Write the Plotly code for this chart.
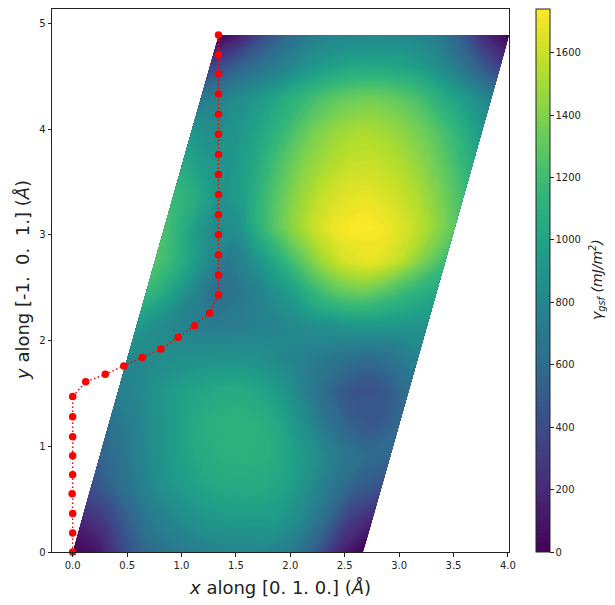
import plotly.graph_objects as go

# Grid: position along the [0 1 0] edge and y rows
a_vals = [0, 0.2225, 0.445, 0.6675, 0.89, 1.1125, 1.335, 1.5575, 1.78, 2.0025, 2.225, 2.4475, 2.67]
b_vals = [0, 0.306, 0.612, 0.918, 1.224, 1.53, 1.836, 2.142, 2.448, 2.754, 3.06, 3.366, 3.672, 3.978, 4.284, 4.59, 4.89]
shear = 0.2745
gamma_rows = [
    [0, 90, 360, 580, 680, 740, 780, 790, 790, 730, 520, 190, 0],
    [200, 330, 560, 730, 830, 900, 940, 950, 940, 830, 620, 340, 180],
    [430, 580, 740, 880, 970, 1030, 1050, 1050, 1000, 850, 680, 520, 450],
    [560, 680, 830, 950, 1040, 1090, 1100, 1080, 980, 850, 700, 610, 590],
    [650, 760, 880, 1000, 1080, 1110, 1100, 1030, 860, 680, 520, 480, 590],
    [760, 830, 930, 1000, 1040, 1050, 1000, 880, 710, 530, 430, 480, 650],
    [800, 830, 860, 880, 890, 880, 830, 770, 710, 650, 620, 680, 780],
    [950, 850, 770, 720, 730, 760, 800, 840, 880, 920, 930, 920, 900],
    [1170, 1000, 800, 620, 700, 820, 950, 1150, 1290, 1330, 1240, 1130, 1040],
    [1260, 1100, 880, 700, 850, 1050, 1290, 1510, 1650, 1690, 1590, 1400, 1200],
    [1240, 1030, 830, 860, 1130, 1370, 1560, 1700, 1740, 1720, 1630, 1490, 1290],
    [1180, 1050, 880, 1000, 1220, 1420, 1570, 1660, 1680, 1630, 1540, 1390, 1200],
    [1050, 930, 900, 1040, 1240, 1410, 1520, 1590, 1590, 1530, 1420, 1260, 1080],
    [920, 850, 920, 1040, 1200, 1360, 1470, 1520, 1490, 1410, 1290, 1130, 930],
    [720, 800, 880, 1000, 1130, 1250, 1330, 1360, 1320, 1230, 1080, 930, 780],
    [350, 520, 650, 760, 900, 980, 1030, 1030, 1000, 920, 760, 560, 330],
    [0, 170, 430, 620, 750, 790, 800, 800, 790, 730, 510, 200, 0],
]
path_x = [0, 0, 0, -0.005, 0, 0, 0, 0, 0, 0.12, 0.30, 0.47, 0.64, 0.81, 0.97, 1.12, 1.26,
          1.34, 1.34, 1.34, 1.34, 1.34, 1.34, 1.34, 1.34, 1.34, 1.34, 1.34, 1.34, 1.34, 1.34]
path_y = [0, 0.18, 0.365, 0.55, 0.73, 0.91, 1.09, 1.28, 1.47, 1.61, 1.68, 1.76, 1.84, 1.92, 2.03, 2.14, 2.26,
          2.43, 2.62, 2.81, 3.0, 3.19, 3.38, 3.57, 3.76, 3.95, 4.14, 4.33, 4.52, 4.70, 4.89]
x_ticks = [0, 0.5, 1, 1.5, 2, 2.5, 3, 3.5, 4]
y_ticks = [0, 1, 2, 3, 4, 5]
cbar_ticks = [0, 200, 400, 600, 800, 1000, 1200, 1400, 1600]

carpet_x = [[a + b * shear for a in a_vals] for b in b_vals]
carpet_y = [[b for _ in a_vals] for b in b_vals]
hidden = dict(showgrid=False, showticklabels="none", startline=False, endline=False,
              smoothing=1, minorgridcount=0, showline=False)

W, H = 615, 605
OFF = 7  # page offset of the figure inside the browser window
L, R, T, B = 51 - OFF, 508 - OFF, 8 - OFF, 551 - OFF
FONT = "DejaVu Sans"
INK = "#222"
fig = go.Figure()
fig.add_trace(go.Carpet(a=a_vals, b=b_vals, x=carpet_x, y=carpet_y, aaxis=hidden, baxis=hidden, carpet="c1"))
fig.add_trace(go.Contourcarpet(
    a=a_vals, b=b_vals, z=gamma_rows, carpet="c1", colorscale="Viridis", zmin=0, zmax=1740,
    autocontour=False, contours=dict(start=0, end=1740, size=15, coloring="fill", showlines=False),
    line=dict(width=0),
    colorbar=dict(x=(535 - OFF - L) / (R - L), xanchor="left", y=0, yanchor="bottom", len=1, lenmode="fraction",
                  thickness=14, thicknessmode="pixels", outlinewidth=1, outlinecolor=INK,
                  tickmode="array", tickvals=cbar_ticks, ticks="outside", ticklen=3.5, tickwidth=1, tickcolor=INK,
                  tickfont=dict(family=FONT, size=10, color=INK), xpad=0, ypad=0),
))
fig.add_trace(go.Scatter(x=path_x, y=path_y, mode="lines+markers",
                         line=dict(color="red", width=1.5, dash="1.5px,2.5px"),
                         marker=dict(color="red", size=7.5), cliponaxis=False, showlegend=False))
axis = dict(showline=True, mirror=True, linecolor=INK, linewidth=1, ticks="outside", ticklen=3.5, tickwidth=1,
            tickcolor=INK, showgrid=False, zeroline=False, automargin=False,
            tickfont=dict(family=FONT, size=10, color=INK))


def label(text, px, py, size, angle=0):
    fig.add_annotation(text=text, x=(px - OFF - L) / (R - L), y=1 - (py - OFF - T) / (B - T),
                       xref="paper", yref="paper", showarrow=False,
                       textangle=angle, xanchor="center", yanchor="middle",
                       font=dict(family=FONT, size=size, color=INK))


fig.update_layout(
    width=W, height=H, autosize=False, margin=dict(l=L, r=W - R, t=T, b=H - B),
    paper_bgcolor="white", plot_bgcolor="white", showlegend=False, font=dict(family=FONT),
    xaxis=dict(axis, range=[-0.19, 4.01], tickmode="array", tickvals=x_ticks,
               ticktext=["0.0", "0.5", "1.0", "1.5", "2.0", "2.5", "3.0", "3.5", "4.0"]),
    yaxis=dict(axis, range=[0, 5.135], tickmode="array", tickvals=y_ticks),
)
label("<i>x</i> along [0. 1. 0.] (<i>Å</i>)", 279, 586, 18)
label("<i>y</i> along [-1.  0.  1.] (<i>Å</i>)", 22, 279, 18, -90)
label("<i>γ<sub>gsf</sub> (mJ/m<sup>2</sup>)</i>", 596, 279, 14, -90)
fig.write_html("out.html")
